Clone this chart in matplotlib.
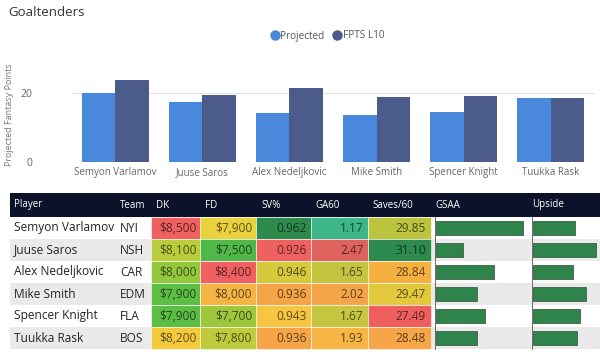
import matplotlib
matplotlib.use("Agg")
import matplotlib.pyplot as plt
from matplotlib.patches import Rectangle
from matplotlib.lines import Line2D
import numpy as np

plt.rcParams['font.family'] = ['Open Sans', 'DejaVu Sans']

players = ["Semyon Varlamov", "Juuse Saros", "Alex Nedeljkovic", "Mike Smith", "Spencer Knight", "Tuukka Rask"]
teams = ["NYI", "NSH", "CAR", "EDM", "FLA", "BOS"]
projected = [20.0, 17.2, 14.0, 13.5, 14.4, 18.5]
fpts_l10 = [23.5, 19.2, 21.2, 18.7, 19.1, 18.3]

dk = [8500, 8100, 8000, 7900, 7900, 8200]
fd = [7900, 7500, 8400, 8000, 7700, 7800]
sv_pct = [0.962, 0.926, 0.946, 0.936, 0.943, 0.936]
ga60 = [1.17, 2.47, 1.65, 2.02, 1.67, 1.93]
saves60 = [29.85, 31.10, 28.84, 29.47, 27.49, 28.48]
gsaa = [8.7, 2.7, 5.8, 4.1, 4.9, 4.1]
upside = [4.2, 6.3, 4.0, 5.3, 4.7, 4.4]

headers = ["Player", "Team", "DK", "FD", "SV%", "GA60", "Saves/60", "GSAA", "Upside"]

dk_colors = ["#ef6060", "#b9cd3c", "#93c83e", "#5dbd45", "#5dbd45", "#f3ca3c"]
fd_colors = ["#e9d23c", "#4fb848", "#ef6060", "#f5b544", "#9fc73d", "#bfcb3c"]
sv_colors = ["#2e8b4e", "#ef6060", "#d6c93c", "#f5a548", "#f6c640", "#f5a548"]
ga_colors = ["#3db78a", "#e0625e", "#c3c541", "#f4a548", "#c6c641", "#f6b545"]
sa_colors = ["#bcc33d", "#2e8b50", "#f6b040", "#e2c93b", "#ef5f5f", "#f6a646"]

W, H = 600, 352
fig = plt.figure(figsize=(6.0, 3.52), dpi=100)
fig.patch.set_facecolor("white")

# ---- bar chart ----
left, right = 71.5, 594.5
top, bottom = 58, 161.7
ax = fig.add_axes([left / W, 1 - bottom / H, (right - left) / W, (bottom - top) / H])
x = np.arange(len(players))
bw = 0.385
c_proj, c_fpts = "#4a88db", "#4b5b8b"
ax.bar(x - bw / 2, projected, bw, color=c_proj, zorder=3)
ax.bar(x + bw / 2, fpts_l10, bw, color=c_fpts, zorder=3)
ax.set_xlim(-0.5, len(players) - 0.5)
ax.set_ylim(0, 30)
ax.set_yticks([0, 20])
ax.yaxis.grid(True, color="#e4e4e4", lw=0.8, zorder=0)
ax.set_xticks(x)
ax.set_xticklabels(players, fontsize=7, color="#666666")
ax.tick_params(axis='y', labelsize=7.5, colors="#666666", length=0, pad=28)
ax.tick_params(axis='x', length=0, pad=4)
for s in ax.spines.values():
    s.set_visible(False)
ax.set_ylabel("Projected Fantasy Points", fontsize=6.5, color="#777777")
ax.yaxis.set_label_coords(-0.11, 0.45)

fig.text(8 / W, 1 - 12 / H, "Goaltenders", fontsize=9.5, color="#333333", va="center", ha="left")

handles = [Line2D([], [], marker="o", ls="", color=c_proj, markersize=6.5),
           Line2D([], [], marker="o", ls="", color=c_fpts, markersize=6.5)]
ax.legend(handles, ["Projected", "FPTS L10"], loc="center",
          bbox_to_anchor=((328 - left) / (right - left), (bottom - 36) / (bottom - top)),
          ncol=2, frameon=False, fontsize=7.2, handlelength=0.6, handletextpad=0.25,
          columnspacing=1.0, labelcolor="#555555")

# ---- table ----
tab = fig.add_axes([0, 0, 1, 1], zorder=-1)
tab.set_xlim(0, W)
tab.set_ylim(H, 0)
tab.axis("off")

hdr_top, hdr_bot = 193, 217
rh = 22
tab.add_patch(Rectangle((10, hdr_top), W - 10, hdr_bot - hdr_top, color="#0b1229", lw=0))
hdr_x = [14, 120, 156, 205, 261, 315, 372, 435, 532]
for hx, t in zip(hdr_x, headers):
    tab.text(hx, (hdr_top + hdr_bot) / 2, t, color="white", fontsize=7, va="center", ha="left")

col_bounds = [(151, 200), (200, 256), (256, 311), (311, 368), (368, 431)]
col_right = [197, 252, 307, 364, 426]
col_vals = [
    ["${:,}".format(v) for v in dk],
    ["${:,}".format(v) for v in fd],
    ["{:.3f}".format(v) for v in sv_pct],
    ["{:.2f}".format(v) for v in ga60],
    ["{:.2f}".format(v) for v in saves60],
]
col_cols = [dk_colors, fd_colors, sv_colors, ga_colors, sa_colors]

def darken(c, f=0.38):
    r, g, b = matplotlib.colors.to_rgb(c)
    return (r * f, g * f, b * f)

for i in range(len(players)):
    y0 = hdr_bot + i * rh
    bg = "white" if i % 2 == 0 else "#eaeaeb"
    tab.add_patch(Rectangle((10, y0), W - 10, rh, color=bg, lw=0))
    yc = y0 + rh / 2
    tab.text(14, yc, players[i], fontsize=8.6, color="#252423", va="center", ha="left")
    tab.text(120, yc, teams[i], fontsize=8.6, color="#252423", va="center", ha="left")
    for (cx0, cx1), xr, vals, cols in zip(col_bounds, col_right, col_vals, col_cols):
        tab.add_patch(Rectangle((cx0, y0), cx1 - cx0, rh, facecolor=cols[i], edgecolor="white", lw=0.4))
        tab.text(xr, yc, vals[i], fontsize=8.6, color=darken(cols[i]), va="center", ha="right")

tab.plot([435, 435], [hdr_bot, hdr_bot + 6 * rh], color="#555555", lw=0.6)
tab.plot([532, 532], [hdr_bot, hdr_bot + 6 * rh], color="#555555", lw=0.6)

# data bars
def bar_axes(x0, x1, vals, vmax):
    b = fig.add_axes([x0 / W, 1 - (hdr_bot + 6 * rh) / H, (x1 - x0) / W, 6 * rh / H])
    b.patch.set_alpha(0)
    b.barh(np.arange(len(vals)), vals, height=0.66, left=0, color="#2e844a", edgecolor="#3f5f45", lw=0.6)
    b.set_xlim(0, vmax)
    b.set_ylim(len(vals) - 0.5, -0.5)
    b.axis("off")
    return b

bar_axes(435.5, 528.5, gsaa, 9.3)
bar_axes(532.5, 600.5, upside, 6.8)

fig.savefig("out.png", dpi=100, facecolor="white")
